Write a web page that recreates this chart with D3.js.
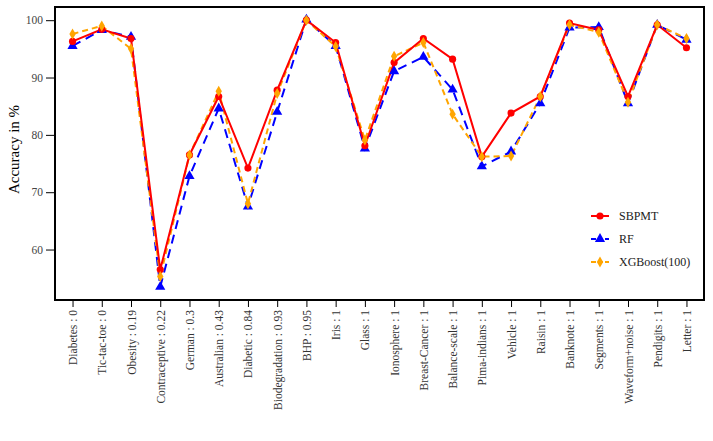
<!DOCTYPE html>
<html>
<head>
<meta charset="utf-8">
<script src="https://cdn.jsdelivr.net/npm/d3@7"></script>
<style>
  body { margin: 0; background: #fff; }
</style>
</head>
<body>
<div id="chart"></div>
<script>
// Datasets with their label suffix
var datasets = ["Diabetes : 0", "Tic-tac-toe : 0", "Obesity : 0.19", "Contraceptive : 0.22",
    "German : 0.3", "Australian : 0.43", "Diabetic : 0.84", "Biodegradation : 0.93",
    "BHP : 0.95", "Iris : 1", "Glass : 1", "Ionosphere : 1", "Breast-Cancer : 1",
    "Balance-scale : 1", "Pima-indians : 1", "Vehicle : 1", "Raisin : 1", "Banknote : 1",
    "Segments : 1", "Waveform+noise : 1", "Pendigits : 1", "Letter : 1"];

var sbpmt = [96.3, 98.4, 96.8, 56.5, 76.5, 86.7, 74.2, 87.8, 100, 96.1, 78.1,
    92.6, 96.8, 93.2, 76.2, 83.8, 86.7, 99.5, 98.3, 86.7, 99.2, 95.2];
var rf = [95.5, 98.3, 97.1, 53.5, 72.8, 84.6, 67.5, 84.0, 100.1, 95.5, 77.6,
    91.1, 93.6, 87.9, 74.5, 77.1, 85.5, 98.7, 98.8, 85.5, 99.2, 96.6];
var xgb = [97.6, 99.0, 95.0, 55.3, 76.5, 87.6, 68.0, 87.2, 100, 95.4, 79.1,
    93.7, 96.1, 83.6, 76.2, 76.3, 86.7, 99.2, 97.9, 85.7, 99.2, 96.8];

var yTicks = [60, 70, 80, 90, 100];

var serif = "'Liberation Serif', 'Times New Roman', Times, serif";

var margin = { top: 7, right: 9, bottom: 141, left: 55 };
var width = 713 - margin.left - margin.right;
var height = 441 - margin.top - margin.bottom;

var svg = d3.select("#chart").append("svg")
    .attr("width", 713)
    .attr("height", 441)
    .append("g")
    .attr("transform", "translate(" + margin.left + "," + margin.top + ")");

var x = d3.scalePoint()
    .domain(datasets)
    .range([0, width])
    .padding(0.6);

var y = d3.scaleLinear()
    .domain([51.2, 102.3])
    .range([height, 0]);

// Axes
var xAxis = svg.append("g")
    .attr("transform", "translate(0," + height + ")")
    .call(d3.axisBottom(x).tickSize(7).tickSizeOuter(0));
xAxis.select(".domain").remove();
xAxis.selectAll("line").attr("stroke", "#000");
xAxis.selectAll("text")
    .attr("transform", "rotate(-90)")
    .attr("x", -10)
    .attr("y", 0)
    .attr("dy", "0.35em")
    .style("text-anchor", "end")
    .style("font-family", serif)
    .style("font-size", "11.5px")
    .attr("fill", "#333");

var yAxis = svg.append("g")
    .call(d3.axisLeft(y).tickValues(yTicks).tickSize(9).tickSizeOuter(0));
yAxis.select(".domain").remove();
yAxis.selectAll("line").attr("stroke", "#000");
yAxis.selectAll("text")
    .attr("x", -12)
    .style("font-family", serif)
    .style("font-size", "11.5px")
    .attr("fill", "#444");

// Frame
svg.append("rect")
    .attr("width", width)
    .attr("height", height)
    .attr("fill", "none")
    .attr("stroke", "#000")
    .attr("stroke-width", 2);

// Y label
svg.append("text")
    .attr("transform", "rotate(-90)")
    .attr("x", -height / 2 + 4)
    .attr("y", -36)
    .style("text-anchor", "middle")
    .style("font-family", serif)
    .style("font-size", "15px")
    .text("Accuracy in %");

var series = [
    { name: "SBPMT", values: sbpmt, color: "#ff0000", dash: null, shape: d3.symbolCircle, size: 40 },
    { name: "RF", values: rf, color: "#0000ff", dash: "9,6", shape: d3.symbolTriangle, size: 45 },
    { name: "XGBoost(100)", values: xgb, color: "#ffa500", dash: "6,4", shape: d3.symbolDiamond, size: 35 }
];

var line = d3.line()
    .x((d, i) => x(datasets[i]))
    .y(d => y(d));

// Lines: RF, XGBoost, then SBPMT on top
[series[1], series[2], series[0]].forEach(function(s) {
    svg.append("path")
        .datum(s.values)
        .attr("d", line)
        .attr("fill", "none")
        .attr("stroke", s.color)
        .attr("stroke-width", 2)
        .attr("stroke-dasharray", s.dash);
});

// Markers
[series[1], series[0], series[2]].forEach(function(s) {
    svg.selectAll(null)
        .data(s.values)
        .enter()
        .append("path")
        .attr("d", d3.symbol().type(s.shape).size(s.size))
        .attr("transform", (d, i) => "translate(" + x(datasets[i]) + "," + y(d) + ")")
        .attr("fill", s.color);
});

// Legend
var legend = svg.append("g")
    .attr("transform", "translate(" + (591 - margin.left) + "," + (216 - margin.top) + ")");

series.forEach(function(s, i) {
    var row = legend.append("g").attr("transform", "translate(0," + (i * 23) + ")");
    row.append("line")
        .attr("x1", 0)
        .attr("x2", 18)
        .attr("stroke", s.color)
        .attr("stroke-width", 2)
        .attr("stroke-dasharray", s.dash ? "5,2" : null);
    row.append("path")
        .attr("d", d3.symbol().type(s.shape).size(s.size))
        .attr("transform", "translate(9,0)")
        .attr("fill", s.color);
    row.append("text")
        .attr("x", 28)
        .attr("dy", "0.35em")
        .style("font-family", serif)
        .style("font-size", "12px")
        .attr("fill", "#222")
        .text(s.name);
});
</script>
</body>
</html>
